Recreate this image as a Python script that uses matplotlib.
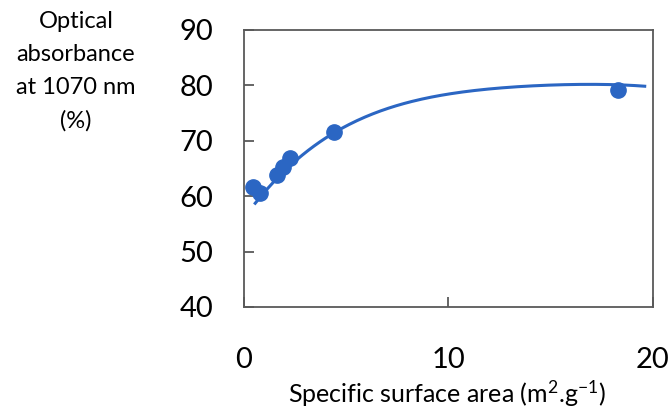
import matplotlib.pyplot as plt
import numpy as np

plt.rcParams['font.family'] = ['Lato', 'DejaVu Sans']
plt.rcParams['mathtext.fontset'] = 'custom'
plt.rcParams['mathtext.rm'] = 'Lato'
plt.rcParams['mathtext.it'] = 'Lato:italic'

# measured points
area = [0.45, 0.8, 1.6, 1.9, 2.25, 4.4, 18.3]
absorb = [61.7, 60.6, 63.8, 65.3, 66.9, 71.6, 79.1]

# trendline
trend_x = [0.55, 1.0, 2.0, 3.0, 4.4, 6.0, 8.0, 10.0, 12.0, 14.0, 16.0, 18.0, 19.6]
trend_y = [59.0, 60.6, 64.3, 67.8, 71.6, 74.6, 76.9, 78.3, 79.3, 79.9, 80.2, 80.2, 79.8]

blue = '#2b66c3'
gray = '#595959'

fig = plt.figure(figsize=(6.71, 4.12), dpi=100)
ax = fig.add_axes([0.3636, 0.2549, 0.6094, 0.6723])

# smooth trend through the read points
coef = np.polyfit(trend_x, trend_y, 4)
xs = np.linspace(trend_x[0], trend_x[-1], 200)
ax.plot(xs, np.polyval(coef, xs), color=blue, lw=2.2, zorder=2)
ax.plot(area, absorb, 'o', color=blue, ms=11, zorder=3)

ax.set_xlim(0, 20)
ax.set_ylim(40, 90)
ax.set_xticks([0, 10, 20])
ax.set_yticks([40, 50, 60, 70, 80, 90])

for s in ax.spines.values():
    s.set_color(gray)
    s.set_linewidth(1.3)

ax.tick_params(axis='y', direction='in', length=7, width=1.3, color=gray,
               labelsize=21, pad=22, labelcolor='black')
ax.tick_params(axis='x', direction='in', length=7, width=1.3, color=gray,
               labelsize=21, pad=29, labelcolor='black')

# axis titles
fig.text(447 / 671, 1 - 403 / 412, 'Specific surface area (m$^{\\mathrm{2}}$.g$^{\\mathrm{-1}}$)',
         ha='center', va='baseline', fontsize=18)
fig.text(76 / 671, 1 - 11 / 412, 'Optical\nabsorbance\nat 1070 nm\n(%)',
         ha='center', va='top', fontsize=17, linespacing=1.7)

fig.savefig('out.png', dpi=100)
